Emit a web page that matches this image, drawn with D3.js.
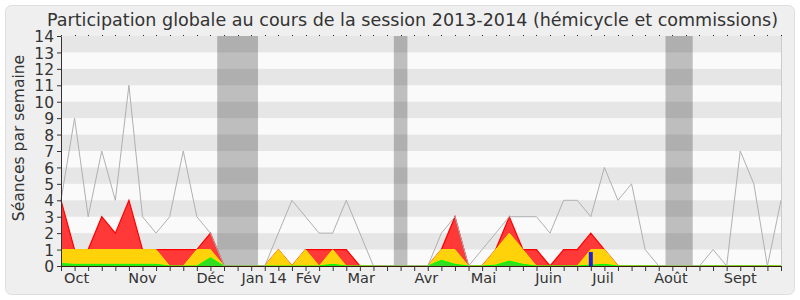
<!DOCTYPE html>
<html>
<head>
<meta charset="utf-8">
<script src="https://cdn.jsdelivr.net/npm/d3@7"></script>
<style>
  html, body { margin: 0; padding: 0; background: #ffffff; }
  svg { display: block; }
  text { font-family: "DejaVu Sans", Verdana, sans-serif; }
</style>
</head>
<body>
<svg id="chart" width="800" height="300"></svg>
<script>
// ---- data (one value per week of the session, Oct 2013 -> Sept 2014) ----
const totalSeances = [4, 9, 3, 7, 4, 11, 3, 2, 3, 7, 3, 2, 0, 0, 0, 0, 2, 4, 3, 2, 2, 4, 2, 0, 0, 0, 0, 0, 2, 3, 0, 1, 2, 3, 3, 3, 2, 4, 4, 3, 6, 4, 5, 1, 0, 0, 0, 0, 1, 0, 7, 5, 0, 4];
const presences   = [4, 1, 1, 3, 2, 4, 1, 1, 1, 1, 1, 2, 0, 0, 0, 0, 1, 0, 1, 1, 1, 1, 0, 0, 0, 0, 0, 0, 1, 3, 0, 0, 1, 3, 1, 1, 0, 1, 1, 2, 1, 0, 0, 0, 0, 0, 0, 0, 0, 0, 0, 0, 0, 0];
const commissions = [1, 1, 1, 1, 1, 1, 1, 1, 0, 0, 1, 1, 0, 0, 0, 0, 1, 0, 1, 0, 1, 0, 0, 0, 0, 0, 0, 0, 1, 1, 0, 0, 1, 2, 1, 0, 0, 0, 0, 1, 1, 0, 0, 0, 0, 0, 0, 0, 0, 0, 0, 0, 0, 0];
const interventions = [0.15, 0.1, 0.1, 0.1, 0.1, 0.1, 0.1, 0.1, 0, 0, 0, 0.5, 0, 0, 0, 0, 0, 0, 0, 0, 0.1, 0, 0, 0, 0, 0, 0, 0, 0.35, 0.1, 0, 0, 0.05, 0.3, 0.1, 0, 0, 0, 0, 0.05, 0.1, 0, 0, 0, 0, 0, 0, 0, 0, 0, 0, 0, 0, 0];
const questionsWeek = [39];
const questionsValue = [0.85];
const vacancesStart = [11.5, 24.5, 44.5];
const vacancesEnd   = [14.5, 25.5, 46.5];
const monthLabels = ["Oct", "Nov", "Déc", "Jan 14", "Fév", "Mar", "Avr", "Mai", "Juin", "Juil", "Août", "Sept"];
const monthWeeks  = [1.15, 6.0, 11.0, 14.95, 18.2, 22.1, 26.9, 31.1, 35.9, 39.9, 44.9, 50.0];
const yTicks = d3.range(0, 15);
const titleText = "Participation globale au cours de la session 2013-2014 (hémicycle et commissions)";
const yLabel = "Séances par semaine";

// ---- layout ----
const svg = d3.select("#chart");
const L = 61, R = 781, T = 36, B = 266;
const nWeeks = totalSeances.length;
const x = d3.scaleLinear().domain([0, nWeeks - 1]).range([L, R]);
const y = d3.scaleLinear().domain([0, 14]).range([B, T]);

// panel
svg.append("rect").attr("x", 5.5).attr("y", 5.5).attr("width", 789).attr("height", 289)
  .attr("rx", 6).attr("fill", "#efefef").attr("stroke", "#dedede");

// plot background
svg.append("rect").attr("x", L).attr("y", T).attr("width", R - L).attr("height", B - T).attr("fill", "#fafafa");

// vacation bands
svg.append("g").selectAll("rect").data(vacancesStart).join("rect")
  .attr("x", (d) => x(d)).attr("width", (d, i) => x(vacancesEnd[i]) - x(d))
  .attr("y", T).attr("height", B - T).attr("fill", "#bebebe");

// horizontal stripes (every other unit)
svg.append("g").selectAll("rect").data(yTicks.filter(v => v % 2 === 1 && v < 14)).join("rect")
  .attr("x", L).attr("width", R - L)
  .attr("y", (d) => y(d + 1)).attr("height", (d) => y(d) - y(d + 1))
  .attr("fill", "#000").attr("fill-opacity", 0.08);

// areas
const area = (arr) => d3.area().x((d, i) => x(i)).y0(y(0)).y1((d) => y(d))(arr);
const line = (arr) => d3.line().x((d, i) => x(i)).y((d) => y(d))(arr);

svg.append("path").attr("d", area(presences)).attr("fill", "#ff3838");
svg.append("path").attr("d", line(presences)).attr("fill", "none").attr("stroke", "#ff0000").attr("stroke-width", 1.2);
svg.append("path").attr("d", area(commissions)).attr("fill", "#ffd20a");
svg.append("path").attr("d", line(commissions)).attr("fill", "none").attr("stroke", "#ffee00").attr("stroke-width", 1).attr("stroke-opacity", 0.8);
svg.append("path").attr("d", area(interventions)).attr("fill", "#33dd22");
svg.append("path").attr("d", line(interventions)).attr("fill", "none").attr("stroke", "#00ff00").attr("stroke-width", 1);

// questions bar
svg.append("g").selectAll("rect").data(questionsWeek).join("rect")
  .attr("x", (d) => x(d) - 2).attr("width", 4)
  .attr("y", (d, i) => y(questionsValue[i])).attr("height", (d, i) => y(0) - y(questionsValue[i]))
  .attr("fill", "#1f1fd6");

// total line
svg.append("path").attr("d", line(totalSeances)).attr("fill", "none").attr("stroke", "#b0b0b0").attr("stroke-width", 1);

// right border
svg.append("line").attr("x1", R + 0.5).attr("x2", R + 0.5).attr("y1", T).attr("y2", B).attr("stroke", "#cccccc");

// top dots
svg.append("g").selectAll("rect").data(d3.range(nWeeks)).join("rect")
  .attr("x", (d) => Math.round(x(d))).attr("y", T - 1).attr("width", 1).attr("height", 1).attr("fill", "#222");

// x axis
const xAxis = d3.axisBottom(x).tickValues(d3.range(nWeeks)).tickFormat("").tickSize(5).tickSizeOuter(0);
const gx = svg.append("g").attr("transform", `translate(0,${B})`).call(xAxis);
gx.select(".domain").attr("stroke", "#3a1a08");
gx.selectAll(".tick line").attr("stroke", "#333");

svg.append("g").selectAll("text").data(monthLabels).join("text")
  .attr("x", (d, i) => x(monthWeeks[i])).attr("y", 283)
  .attr("text-anchor", "middle").attr("font-size", 14.5).attr("fill", "#333")
  .text((d) => d);

// y axis
const yAxis = d3.axisLeft(y).tickValues(yTicks).tickFormat(d3.format("d")).tickSize(4).tickSizeOuter(0);
const gy = svg.append("g").attr("transform", `translate(${L},0)`).call(yAxis);
gy.select(".domain").attr("stroke", "#333");
gy.selectAll(".tick line").attr("stroke", "#333");
gy.selectAll(".tick text").attr("font-size", 15.5).attr("fill", "#333").attr("font-family", "DejaVu Sans").attr("dy", "0.36em").attr("x", -7);

// y label
svg.append("text").attr("transform", "translate(24,138) rotate(-90)")
  .attr("text-anchor", "middle").attr("font-size", 15.5).attr("fill", "#333").text(yLabel);

// title
svg.append("text").attr("x", 412.5).attr("y", 26).attr("text-anchor", "middle")
  .attr("font-size", 18).attr("fill", "#333")
  .attr("textLength", 731).attr("lengthAdjust", "spacingAndGlyphs")
  .text(titleText);
</script>
</body>
</html>
